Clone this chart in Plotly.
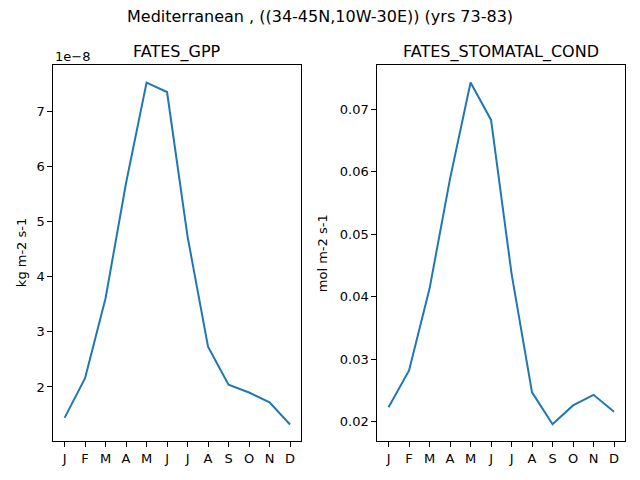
import plotly.graph_objects as go

# monthly climatology, Mediterranean box
months = ["J", "F", "M", "A", "M", "J", "J", "A", "S", "O", "N", "D"]
gpp_e8 = [1.44, 2.16, 3.61, 5.70, 7.52, 7.35, 4.73, 2.73, 2.04, 1.90, 1.72, 1.32]
stomatal_cond = [0.0223, 0.0282, 0.0413, 0.0589, 0.0743, 0.0683,
                 0.0437, 0.0247, 0.0196, 0.0226, 0.0243, 0.0216]
gpp_ticks = [2, 3, 4, 5, 6, 7]
cond_ticks = [0.02, 0.03, 0.04, 0.05, 0.06, 0.07]

W, H = 640, 480
FONT = "DejaVu Sans"
BLUE = "#1f77b4"


def px_x(p):
    return p / W


def px_y(p):
    return 1 - p / H


xs = list(range(len(months)))
gpp = [v * 1e-8 for v in gpp_e8]

fig = go.Figure()
fig.add_trace(go.Scatter(x=xs, y=gpp, mode="lines", line=dict(color=BLUE, width=2),
                         xaxis="x", yaxis="y", showlegend=False))
fig.add_trace(go.Scatter(x=xs, y=stomatal_cond, mode="lines", line=dict(color=BLUE, width=2),
                         xaxis="x2", yaxis="y2", showlegend=False))

top, bottom = px_y(65.3), px_y(441)
dom1 = [px_x(53.3), px_x(301.3)]
dom2 = [px_x(377.3), px_x(625.3)]

axis_common = dict(showline=True, mirror=True, linecolor="black", linewidth=1,
                   ticks="outside", ticklen=5, tickwidth=1, tickcolor="black",
                   showgrid=False, zeroline=False, automargin=False,
                   tickfont=dict(family=FONT, size=13, color="black"))

fig.update_layout(
    width=W, height=H,
    margin=dict(l=0, r=0, t=0, b=0),
    paper_bgcolor="white", plot_bgcolor="white",
    font=dict(family=FONT, size=13, color="black"),
    xaxis=dict(domain=dom1, anchor="y", range=[-0.55, 11.55],
               tickmode="array", tickvals=xs, ticktext=months, **axis_common),
    yaxis=dict(domain=[bottom, top], anchor="x", range=[1.02e-8, 7.835e-8],
               tickmode="array", tickvals=[t * 1e-8 for t in gpp_ticks],
               ticktext=[str(t) for t in gpp_ticks], **axis_common),
    xaxis2=dict(domain=dom2, anchor="y2", range=[-0.55, 11.55],
                tickmode="array", tickvals=xs, ticktext=months, **axis_common),
    yaxis2=dict(domain=[bottom, top], anchor="x2", range=[0.01691, 0.07704],
                tickmode="array", tickvals=cond_ticks,
                ticktext=[f"{t:.2f}" for t in cond_ticks], **axis_common),
)

# suptitle, subplot titles, offset text and axis labels
ann = [
    dict(text="Mediterranean , ((34-45N,10W-30E)) (yrs 73-83)", x=0.5, y=px_y(17),
         xanchor="center", yanchor="middle", font=dict(size=16)),
    dict(text="FATES_GPP", x=(dom1[0] + dom1[1]) / 2, y=px_y(52),
         xanchor="center", yanchor="middle", font=dict(size=16)),
    dict(text="FATES_STOMATAL_COND", x=(dom2[0] + dom2[1]) / 2, y=px_y(52),
         xanchor="center", yanchor="middle", font=dict(size=16)),
    dict(text="1e\u22128", x=dom1[0], y=px_y(56), xanchor="left", yanchor="middle",
         font=dict(size=13)),
    dict(text="kg m-2 s-1", x=px_x(21), y=(top + bottom) / 2, textangle=-90,
         xanchor="center", yanchor="middle", font=dict(size=13)),
    dict(text="mol m-2 s-1", x=px_x(322), y=(top + bottom) / 2, textangle=-90,
         xanchor="center", yanchor="middle", font=dict(size=13)),
]
for a in ann:
    fig.add_annotation(xref="paper", yref="paper", showarrow=False, **a)

# drop the default page margin so the 640x480 figure fills the window
fig.write_html("out.html", config={"displayModeBar": False},
               post_script="document.body.style.margin='0px';")
